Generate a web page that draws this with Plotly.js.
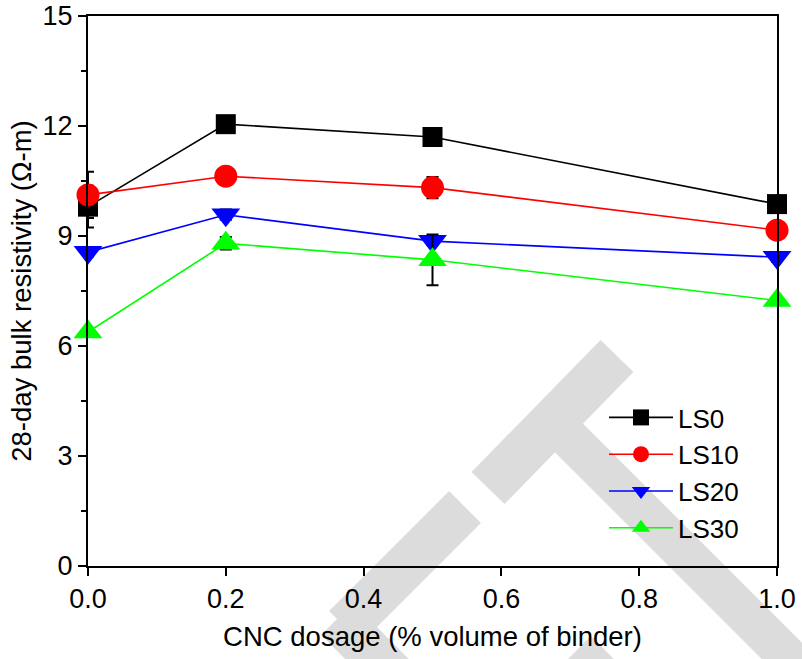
<!DOCTYPE html>
<html>
<head>
<meta charset="utf-8">
<script src="https://cdn.plot.ly/plotly-3.0.1.min.js"></script>
<style>html,body{margin:0;padding:0;background:#fff;}#chart{width:802px;height:659px;}</style>
</head>
<body>
<div id="chart"></div>
<script>
// ---- data ----
const cncDosage = [0, 0.2, 0.5, 1.0];
const seriesNames = ['LS0', 'LS10', 'LS20', 'LS30'];
const ls0 = [9.80, 12.05, 11.70, 9.87];
const ls0Err = [0.57, 0.12, 0.15, 0.20];
const ls10 = [10.12, 10.63, 10.32, 9.16];
const ls10Err = [0.63, 0.18, 0.29, 0.23];
const ls20 = [8.56, 9.58, 8.86, 8.42];
const ls20Err = [0.12, 0.14, 0.10, 0.12];
const ls30 = [6.38, 8.80, 8.35, 7.24];
const ls30Err = [0.06, 0.17, 0.69, 0.06];
const xTickVals = [0, 0.2, 0.4, 0.6, 0.8, 1.0];
const xTickText = ['0.0', '0.2', '0.4', '0.6', '0.8', '1.0'];
const yTickVals = [0, 3, 6, 9, 12, 15];
const yTickText = ['0', '3', '6', '9', '12', '15'];

// ---- styles ----
const FONT = 'Arial, "Liberation Sans", Helvetica, sans-serif';
const colors = ['#000000', '#ff0000', '#0000ff', '#00ff00'];
const symbols = ['square', 'circle', 'triangle-down', 'triangle-up'];
const sizes = [20, 23, 25, 25];
const values = [ls0, ls10, ls20, ls30];
const errors = [ls0Err, ls10Err, ls20Err, ls30Err];

const traces = seriesNames.map((name, i) => ({
  type: 'scatter',
  mode: 'lines+markers',
  name: name,
  x: cncDosage,
  y: values[i],
  cliponaxis: false,
  line: {color: colors[i], width: 1.6},
  marker: {symbol: symbols[i], size: sizes[i], color: colors[i], line: {width: 0}},
  error_y: {type: 'data', array: errors[i], visible: true, color: '#000000', thickness: 2, width: 6}
}));

// plot area in pixels (for the light watermark drawn behind everything)
const L = 88, R = 777, T = 16, B = 566;
const px = v => (v - L) / (R - L);
const py = v => (B - v) / (B - T);
const band = (x0, y0, x1, y1, w) => ({
  type: 'line', xref: 'paper', yref: 'paper', layer: 'below',
  x0: px(x0), y0: py(y0), x1: px(x1), y1: py(y1),
  line: {color: '#dcdcdc', width: w}
});
const watermark = [
  band(488, 488, 617, 356, 46),
  band(553, 422, 840, 709, 40),
  band(465, 507, 345, 627, 45),
  band(337, 619, 420, 702, 45),
  band(575, 652, 630, 707, 45)
];

const layout = {
  width: 802, height: 659,
  margin: {l: 88, r: 25, t: 16, b: 93},
  paper_bgcolor: '#ffffff', plot_bgcolor: '#ffffff',
  font: {family: FONT, size: 27, color: '#000'},
  showlegend: true,
  legend: {
    x: px(604), y: py(394), xanchor: 'left', yanchor: 'top',
    bgcolor: 'rgba(0,0,0,0)', borderwidth: 0, itemwidth: 64,
    font: {family: FONT, size: 26, color: '#000'}
  },
  xaxis: {
    range: [0, 1], tickmode: 'array', tickvals: xTickVals, ticktext: xTickText,
    ticks: 'outside', ticklen: 8, tickwidth: 2, tickcolor: '#000',
    showline: true, linecolor: '#000', linewidth: 2, mirror: true,
    showgrid: false, zeroline: false,
    tickfont: {family: FONT, size: 27},
    title: {text: 'CNC dosage (% volume of binder)', font: {family: FONT, size: 27.5}, standoff: 13}
  },
  yaxis: {
    range: [0, 15], tickmode: 'array', tickvals: yTickVals, ticktext: yTickText,
    ticks: 'outside', ticklen: 8, tickwidth: 2, tickcolor: '#000',
    minor: {tickvals: [1.5, 4.5, 7.5, 10.5, 13.5], ticks: 'outside', ticklen: 5, tickwidth: 2, tickcolor: '#000'},
    showline: true, linecolor: '#000', linewidth: 2, mirror: true,
    showgrid: false, zeroline: false,
    tickfont: {family: FONT, size: 27},
    title: {text: '28-day bulk resistivity (Ω-m)', font: {family: FONT, size: 27.5}, standoff: 3}
  },
  shapes: watermark
};

Plotly.newPlot('chart', traces, layout, {staticPlot: true, displayModeBar: false});
</script>
</body>
</html>
